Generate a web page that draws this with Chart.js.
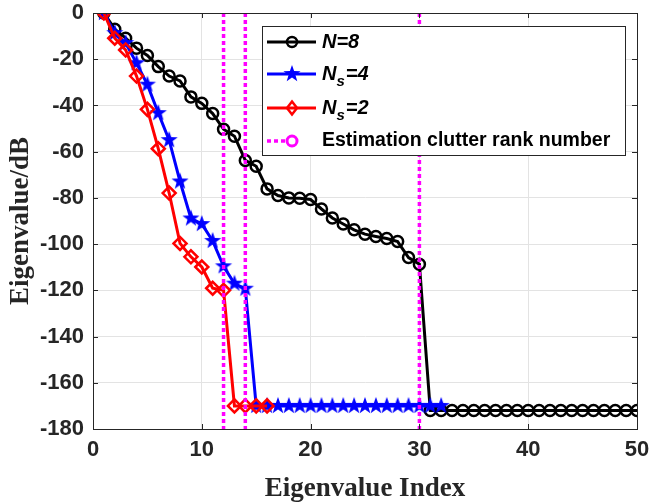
<!DOCTYPE html>
<html>
<head>
<meta charset="utf-8">
<script src="https://cdn.jsdelivr.net/npm/chart.js@4.4.0/dist/chart.umd.min.js"></script>
<style>
    html, body { margin: 0; padding: 0; background: #fff; }
</style>
</head>
<body>
<canvas id="eigChart" width="649" height="504"></canvas>
<script>
// values (dB)
const xTicks = [0, 10, 20, 30, 40, 50];
const yTicks = [0, -20, -40, -60, -80, -100, -120, -140, -160, -180];

const n8 = [0, -7, -10.9, -15.2, -18.4, -23.2, -27.3, -29.4, -36.3, -39.1,
    -43.5, -50.3, -53.3, -63.8, -66.3, -76.1, -79, -80, -80.2, -80.7,
    -84.8, -88.7, -91.3, -93.8, -95.7, -96.7, -97.6, -98.9, -105.8, -108.7,
    -172, -172, -172, -172, -172, -172, -172, -172, -172, -172,
    -172, -172, -172, -172, -172, -172, -172, -172, -172, -172];
const ns4 = [0, -8.7, -13, -21.7, -31, -43.3, -55, -72.9, -88.9, -91.3,
    -98.6, -109.6, -117.1, -119.3, -170, -170, -170, -170, -170, -170,
    -170, -170, -170, -170, -170, -170, -170, -170, -170, -170,
    -170, -170];
const ns2 = [0, -10.9, -16, -27.3, -41.7, -58.7, -77.9, -99.7, -105.5, -109.9,
    -119.1, -120, -170, -170, -170, -170];
const rankLines = [12, 14, 30];

const seriesLabels = ['N=8', 'Ns=4', 'Ns=2', 'Estimation clutter rank number'];

const axisColor = '#262626';
const gridColor = '#e3e3e3';
const magenta = '#ff00ff';

const toPoints = arr => arr.map((v, i) => ({ x: i + 1, y: v }));

// filled pentagram marker like matlab 'p'
function makeStar(color, rOut) {
    const c = document.createElement('canvas');
    const size = Math.ceil(rOut * 2 + 2);
    c.width = size; c.height = size;
    const g = c.getContext('2d');
    const cx = size / 2, cy = size / 2, rIn = rOut * 0.4;
    g.beginPath();
    for (let k = 0; k < 10; k++) {
        const r = k % 2 ? rIn : rOut;
        const a = -Math.PI / 2 + k * Math.PI / 5;
        g.lineTo(cx + r * Math.cos(a), cy + r * Math.sin(a));
    }
    g.closePath();
    g.fillStyle = color;
    g.fill();
    return c;
}
const starImg = makeStar('#0000ff', 9);

const datasets = [
    {
        label: seriesLabels[0], data: toPoints(n8), order: 4,
        borderColor: '#000', borderWidth: 3, pointStyle: 'circle', pointRadius: 5.5,
        pointBorderWidth: 2.5, pointBorderColor: '#000', pointBackgroundColor: 'rgba(0,0,0,0)'
    },
    {
        label: seriesLabels[1], data: toPoints(ns4), order: 3,
        borderColor: '#0000ff', borderWidth: 3, pointStyle: starImg, pointRadius: 9
    },
    {
        label: seriesLabels[2], data: toPoints(ns2), order: 2,
        borderColor: '#ff0000', borderWidth: 3, pointStyle: 'rectRot', pointRadius: 6.5,
        pointBorderWidth: 2.5, pointBorderColor: '#ff0000', pointBackgroundColor: 'rgba(0,0,0,0)'
    }
];
rankLines.forEach(r => datasets.push({
    label: seriesLabels[3], data: [{ x: r, y: 0 }, { x: r, y: -180 }], order: 1,
    borderColor: magenta, borderWidth: 3.5, borderDash: [4, 3], pointRadius: 0
}));

// box + inward ticks, matlab style
const axesBox = {
    id: 'axesBox',
    afterDraw(chart) {
        const { ctx, chartArea: a, scales: { x, y } } = chart;
        ctx.save();
        ctx.strokeStyle = axisColor;
        ctx.lineWidth = 1;
        ctx.strokeRect(a.left + 0.5, a.top + 0.5, a.right - a.left, a.bottom - a.top);
        ctx.beginPath();
        xTicks.forEach(t => {
            const px = Math.round(x.getPixelForValue(t)) + 0.5;
            ctx.moveTo(px, a.bottom); ctx.lineTo(px, a.bottom - 5);
            ctx.moveTo(px, a.top); ctx.lineTo(px, a.top + 5);
        });
        yTicks.forEach(t => {
            const py = Math.round(y.getPixelForValue(t)) + 0.5;
            ctx.moveTo(a.left, py); ctx.lineTo(a.left + 5, py);
            ctx.moveTo(a.right, py); ctx.lineTo(a.right - 5, py);
        });
        ctx.stroke();
        ctx.restore();
    }
};

// legend drawn by hand so the subscripts come out right
const legendBox = {
    id: 'legendBox',
    afterDraw(chart) {
        const ctx = chart.ctx;
        const L = 262, T = 26, W = 363, H = 129;
        const rows = [42, 74, 108, 141];
        const x0 = 267, x1 = 316, xm = 292, tx = 322;
        ctx.save();
        ctx.fillStyle = '#fff';
        ctx.fillRect(L, T, W, H);
        ctx.strokeStyle = axisColor;
        ctx.lineWidth = 1;
        ctx.strokeRect(L + 0.5, T + 0.5, W, H);

        ctx.lineWidth = 3;
        // N=8
        ctx.strokeStyle = '#000';
        ctx.beginPath(); ctx.moveTo(x0, rows[0]); ctx.lineTo(x1, rows[0]); ctx.stroke();
        ctx.lineWidth = 2.5;
        ctx.beginPath(); ctx.arc(xm, rows[0], 5, 0, Math.PI * 2); ctx.stroke();
        // Ns=4
        ctx.lineWidth = 3;
        ctx.strokeStyle = '#0000ff';
        ctx.beginPath(); ctx.moveTo(x0, rows[1]); ctx.lineTo(x1, rows[1]); ctx.stroke();
        ctx.drawImage(starImg, xm - starImg.width / 2, rows[1] - starImg.height / 2);
        // Ns=2
        ctx.strokeStyle = '#ff0000';
        ctx.beginPath(); ctx.moveTo(x0, rows[2]); ctx.lineTo(x1, rows[2]); ctx.stroke();
        ctx.lineWidth = 2.5;
        ctx.beginPath();
        ctx.moveTo(xm, rows[2] - 6.5); ctx.lineTo(xm + 5, rows[2]);
        ctx.lineTo(xm, rows[2] + 6.5); ctx.lineTo(xm - 5, rows[2]); ctx.closePath();
        ctx.stroke();
        // rank line
        ctx.strokeStyle = magenta;
        ctx.lineWidth = 3.5;
        ctx.setLineDash([4, 3]);
        ctx.beginPath(); ctx.moveTo(x0, rows[3]); ctx.lineTo(xm - 5, rows[3]); ctx.stroke();
        ctx.setLineDash([]);
        ctx.lineWidth = 3;
        ctx.beginPath(); ctx.arc(xm, rows[3], 5, 0, Math.PI * 2); ctx.stroke();

        // labels
        ctx.fillStyle = '#000';
        ctx.textBaseline = 'middle';
        ctx.textAlign = 'left';
        const big = 'italic bold 20px "Liberation Sans", Arial, sans-serif';
        const sub = 'italic bold 15px "Liberation Sans", Arial, sans-serif';
        ctx.font = big;
        ctx.fillText('N=8', tx, rows[0]);
        [[rows[1], '=4'], [rows[2], '=2']].forEach(([yy, rest]) => {
            ctx.font = big;
            ctx.fillText('N', tx, yy);
            let cx = tx + ctx.measureText('N').width;
            ctx.font = sub;
            ctx.fillText('s', cx, yy + 8);
            cx += ctx.measureText('s').width + 1;
            ctx.font = big;
            ctx.fillText(rest, cx, yy);
        });
        ctx.font = 'bold 19.5px "Liberation Sans", Arial, sans-serif';
        ctx.fillText(seriesLabels[3], tx, rows[3]);
        ctx.restore();
    }
};

const tickFont = { family: '"Liberation Sans", Arial, sans-serif', size: 22, weight: 'bold' };
const titleFont = { family: '"Liberation Serif", "Times New Roman", serif', size: 27, weight: 'bold', lineHeight: 1.1 };

new Chart(document.getElementById('eigChart'), {
    type: 'line',
    data: { datasets },
    options: {
        responsive: false,
        animation: false,
        devicePixelRatio: 1,
        layout: { padding: { top: 13, right: 12, left: 0, bottom: 0 } },
        plugins: { legend: { display: false }, tooltip: { enabled: false } },
        elements: { line: { tension: 0, fill: false } },
        scales: {
            x: {
                type: 'linear', min: 0, max: 50,
                afterBuildTicks: s => { s.ticks = xTicks.map(v => ({ value: v })); },
                afterFit: s => { s.height = 75; s.paddingLeft = 0; s.paddingRight = 0; },
                grid: { color: gridColor, drawTicks: false },
                border: { color: axisColor },
                ticks: { color: axisColor, font: tickFont, padding: 8, maxRotation: 0 },
                title: { display: true, text: 'Eigenvalue Index', color: axisColor, font: titleFont, padding: { top: 0, bottom: 0 } }
            },
            y: {
                type: 'linear', min: -180, max: 0,
                afterBuildTicks: s => { s.ticks = yTicks.map(v => ({ value: v })); },
                afterFit: s => { s.width = 93; s.paddingTop = 0; s.paddingBottom = 0; },
                grid: { color: gridColor, drawTicks: false },
                border: { color: axisColor },
                ticks: { color: axisColor, font: tickFont, padding: 9 },
                title: { display: true, text: 'Eigenvalue/dB', color: axisColor, font: titleFont, padding: { top: 6, bottom: 0 } }
            }
        }
    },
    plugins: [axesBox, legendBox]
});
</script>
</body>
</html>
